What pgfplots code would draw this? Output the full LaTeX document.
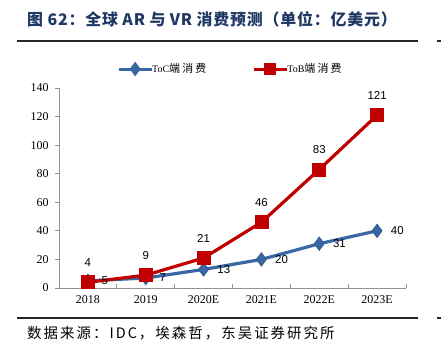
\documentclass[border=0pt]{standalone}
\usepackage{pgfplots}
\pgfplotsset{compat=1.18}
\usepackage{fontspec}
\setmainfont{Liberation Serif}
\newfontfamily\arialf{Liberation Sans}
\newfontfamily\cjk{Noto Sans CJK SC}
\definecolor{tocblue}{HTML}{3A68A4}
\definecolor{tobred}{HTML}{C00000}
\definecolor{titleblue}{HTML}{1F3864}
\begin{document}
\begin{tikzpicture}[x=1bp,y=1bp]
\useasboundingbox (0,0) rectangle (441,350);
\node[anchor=west, text=titleblue, inner sep=0] at (27,330.5) {\cjk\bfseries\fontsize{16}{16}\selectfont\addfontfeature{LetterSpace=5}图 62：全球 AR 与 VR 消费预测（单位：亿美元）};
\draw[line width=1.3bp, black!85] (17,309) -- (418,309);
\draw[line width=1.3bp, black!85] (437,309) -- (441,309);
\draw[line width=1.3bp, black!85] (17,32) -- (418,32);
\draw[line width=1.3bp, black!85] (437,32) -- (441,32);
\node[anchor=west, inner sep=0] at (27,17) {\cjk\fontsize{14.5}{14.5}\selectfont\addfontfeature{LetterSpace=14}数据来源：IDC，埃森哲，东吴证券研究所};
\begin{axis}[
  at={(59bp,62bp)}, anchor=south west, scale only axis,
  width=347bp, height=200bp,
  xmin=-0.5, xmax=5.5, ymin=0, ymax=140,
  axis x line*=bottom, axis y line*=left,
  axis line style={-, draw=gray!85, line width=0.8bp},
  tick align=outside, major tick length=4bp,
  tick style={draw=gray!85, line width=0.8bp},
  ytick={0,20,...,140},
  xtick={-0.5,0.5,...,5.5},
  x tick label as interval,
  xticklabels={2018,2019,2020E,2021E,2022E,2023E},
  x tick style={yshift=4bp},
  /pgf/number format/assume math mode=true,
  tick label style={font=\fontsize{12}{12}\selectfont},
  yticklabel style={xshift=-3bp},
  legend style={at={(0.494,1.095)}, anchor=center, draw=none, fill=none,
    legend columns=2, font=\fontsize{10}{10}\selectfont,
    /tikz/every even column/.append style={column sep=44bp},
    /tikz/every odd column/.append style={column sep=-3bp}},
  legend image code/.code={\draw[mark repeat=2, mark phase=2] plot coordinates {(0bp,0bp)(16.5bp,0bp)(33bp,0bp)};},
]
\addlegendimage{tocblue, line width=3bp, mark=diamond*, mark size=4.8bp, mark options={fill=tocblue}}
\addlegendentry{ToC{\cjk\fontsize{11}{11}\selectfont\addfontfeature{LetterSpace=20}端消费}}
\addlegendimage{tobred, line width=3bp, mark=square*, mark size=4.5bp, mark options={fill=tobred}}
\addlegendentry{ToB{\cjk\fontsize{11}{11}\selectfont\addfontfeature{LetterSpace=20}端消费}}
\addplot[forget plot, tocblue, line width=3.2bp, mark=diamond*, mark size=6.5bp,
  mark options={fill=tocblue, draw=tocblue!90!black, line width=1bp},
  nodes near coords,
  nodes near coords style={font=\arialf\fontsize{11.5}{11.5}\selectfont, text=black, anchor=west, xshift=10bp}]
  coordinates {(0,5)(1,7)(2,13)(3,20)(4,31)(5,40)};
\addplot[forget plot, tobred, line width=3.2bp, mark=square*, mark size=6.5bp,
  mark options={fill=tobred, rounded corners=1.5bp, line width=0.8bp},
  nodes near coords,
  nodes near coords style={font=\arialf\fontsize{11.5}{11.5}\selectfont, text=black, anchor=center, yshift=20bp}]
  coordinates {(0,4)(1,9)(2,21)(3,46)(4,83)(5,121)};
\end{axis}
\end{tikzpicture}
\end{document}
